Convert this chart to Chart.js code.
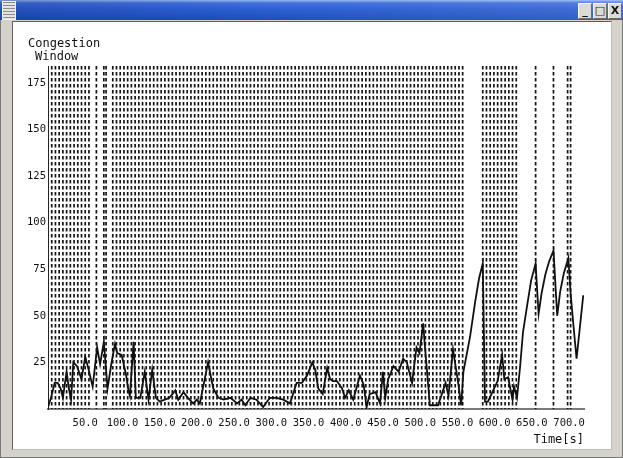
<!DOCTYPE html>
<html>
<head>
<meta charset="utf-8">
<script src="https://cdn.jsdelivr.net/npm/chart.js@4.4.1/dist/chart.umd.min.js"></script>
<style>
  html, body { margin: 0; padding: 0; width: 623px; height: 458px; overflow: hidden; background: #d5d2cc; }
  #frame { position: absolute; left: 0; top: 0; width: 621px; height: 456px; border: 1px solid #7a7a7a; }
  #titlebar { position: absolute; left: 0; top: 0; width: 623px; height: 20px;
    background: linear-gradient(to bottom, #9ab8f0 0px, #3f70dc 3px, #2c5fd2 9px, #2556c6 15px, #1f4db8 20px); }
  #titlebar::after { content: ""; position: absolute; left: 0; top: 0; width: 100%; height: 100%;
    background: linear-gradient(to right, rgba(0,20,90,0.2), rgba(0,0,0,0) 40%, rgba(255,255,255,0.1)); }
  #menu { position: absolute; left: 2px; top: 1px; width: 12px; height: 17px; border: 1px solid #f0f0f0;
    background: repeating-linear-gradient(to bottom, #8c8c8c 0px, #8c8c8c 1px, #e4e4e4 1px, #e4e4e4 3px); z-index: 2; }
  .btn { position: absolute; top: 3px; width: 12px; height: 14px; background: #dcdad5; border: 1px solid #f7f7f7;
    border-right-color: #6a6a6a; border-bottom-color: #6a6a6a; z-index: 2;
    font: bold 11px "DejaVu Sans", sans-serif; color: #111; text-align: center; line-height: 14px; }
  #panel { position: absolute; left: 12px; top: 21px; width: 598px; height: 427px; background: #ffffff;
    border: 1px solid #5e5e5e; border-right-color: #bdbdbd; border-bottom-color: #bdbdbd; }
  #chart { position: absolute; left: 0; top: 0; }
</style>
</head>
<body>
<div id="frame"></div>
<div id="titlebar"></div>
<div id="menu"></div>
<div class="btn" style="left:578px">_</div>
<div class="btn" style="left:593px">&#9633;</div>
<div class="btn" style="left:608px">X</div>
<div id="panel"></div>
<canvas id="chart" width="623" height="458"></canvas>
<script>
// Congestion window trace: sample time [s] and window size
const timeSec = [
  0, 4, 9, 13, 17, 20, 25, 28, 31, 34, 39, 45, 50, 54, 60, 66, 70, 75, 80, 85,
  90, 93, 99, 105, 108, 110, 115, 118, 124, 130, 135, 140, 145, 150, 157, 163, 171, 175, 182, 188,
  195, 200, 204, 215, 222, 229, 236, 245, 254, 260, 265, 272, 280, 289, 298, 307, 316, 325, 334, 341,
  348, 355, 359, 363, 369, 375, 379, 383, 388, 395, 399, 404, 410, 419, 424, 428, 432, 440, 446, 450,
  453, 457, 464, 471, 477, 482, 489, 495, 499, 504, 506, 513, 524, 534, 538, 544, 551, 555, 558, 567,
  574, 579, 584, 587, 591, 598, 604, 610, 613, 618, 624, 626, 630, 634, 638, 643, 649, 655, 659, 663,
  668, 673, 679, 684, 688, 693, 699, 702, 706, 710, 714, 719
];
const cwnd = [
  1, 6, 14, 14, 11, 6, 20, 11, 5, 25, 23, 16, 28, 22, 12, 33, 24, 36, 11, 24,
  35, 30, 29, 18, 10, 7, 36, 6, 6, 20, 5, 21, 6, 4, 5, 6, 10, 5, 9, 6,
  3, 5, 3, 25, 11, 6, 5, 6, 3, 5, 2, 6, 5, 1, 6, 6, 5, 3, 14, 14,
  18, 25, 21, 11, 8, 22, 16, 15, 15, 11, 6, 10, 5, 18, 13, 1, 8, 9, 3, 20,
  6, 16, 23, 20, 27, 25, 14, 33, 30, 46, 35, 2, 2, 14, 7, 32, 14, 2, 20, 39,
  58, 70, 78, 4, 4, 10, 15, 29, 16, 17, 5, 12, 6, 22, 41, 54, 69, 78, 51, 62,
  72, 79, 85, 50, 63, 73, 81, 62, 44, 27, 42, 61
];
// Times [s] of the marked events (vertical dashed lines)
const eventTimes = [
  5, 10, 15, 20, 25, 30, 35, 40, 45, 50, 55, 65, 75, 78,
  87, 92, 97, 102, 107, 112, 117, 122, 127, 132, 137, 142, 147, 152, 157, 162, 167, 172, 177, 182,
  187, 192, 197, 202, 207, 212, 217, 222, 227, 232, 237, 242, 247, 252, 257, 262, 267, 272, 277, 282,
  287, 292, 297, 302, 307, 312, 317, 322, 327, 332, 337, 342, 347, 352, 357, 362, 367, 372, 377, 382,
  387, 392, 397, 402, 407, 412, 417, 422, 427, 432, 437, 442, 447, 452, 457, 462, 467, 472, 477, 482,
  487, 492, 497, 502, 507, 512, 517, 522, 527, 532, 537, 542, 547, 552, 557,
  584, 589, 594, 599, 604, 609, 614, 619, 624, 629,
  655, 679, 698, 702
];
const xTickValues = [50, 100, 150, 200, 250, 300, 350, 400, 450, 500, 550, 600, 650, 700];
const yTickValues = [25, 50, 75, 100, 125, 150, 175];

const X_MAX = 720;
const Y_MAX = 184;

const monoFont = "'DejaVu Sans Mono', 'Liberation Mono', monospace";

// each event becomes its own top-to-bottom segment, separated by a gap
const eventPoints = [];
eventTimes.forEach(t => {
  eventPoints.push({ x: t, y: Y_MAX }, { x: t, y: 0 }, { x: t, y: null });
});

// two-line caption above the value axis
const axisCaption = {
  id: 'axisCaption',
  afterDraw(chart) {
    const { ctx } = chart;
    const left = chart.scales.y.left;
    ctx.save();
    ctx.fillStyle = '#111';
    ctx.font = "12px " + monoFont;
    ctx.textBaseline = 'middle';
    ctx.textAlign = 'left';
    ctx.fillText('Congestion', left + 8, 44);
    ctx.fillText('Window', left + 15, 57);
    ctx.restore();
  }
};

new Chart(document.getElementById('chart'), {
  type: 'line',
  data: {
    datasets: [
      {
        label: 'cwnd',
        data: timeSec.map((t, i) => ({ x: t, y: cwnd[i] })),
        borderColor: '#111111',
        borderWidth: 1.8,
        pointRadius: 0,
        tension: 0,
        order: 0
      },
      {
        label: 'events',
        data: eventPoints,
        borderColor: '#141414',
        borderWidth: 1.7,
        borderDash: [3.6, 2.4],
        pointRadius: 0,
        spanGaps: false,
        order: 1
      }
    ]
  },
  options: {
    responsive: false,
    animation: false,
    devicePixelRatio: 1,
    layout: { padding: { left: 20, right: 39, top: 66, bottom: 0 } },
    plugins: { legend: { display: false }, tooltip: { enabled: false }, title: { display: false } },
    scales: {
      x: {
        type: 'linear',
        min: 0,
        max: X_MAX,
        grid: { display: false, drawTicks: false },
        border: { display: true, color: '#7c7c7c', width: 2 },
        afterBuildTicks: s => { s.ticks = xTickValues.map(v => ({ value: v })); },
        afterFit: s => { s.height = 49; },
        ticks: {
          autoSkip: false, maxRotation: 0, padding: 8, color: '#111',
          font: { family: monoFont, size: 10.5 },
          callback: v => Number(v).toFixed(1)
        },
        title: {
          display: true, text: 'Time[s]', align: 'end', color: '#111',
          font: { family: monoFont, size: 12 },
          padding: { top: 0, bottom: 11 }
        }
      },
      y: {
        type: 'linear',
        min: 0,
        max: Y_MAX,
        grid: { display: false, drawTicks: false },
        border: { display: true, color: '#222', width: 1 },
        afterBuildTicks: s => { s.ticks = yTickValues.map(v => ({ value: v })); },
        afterFit: s => { s.width = 28; },
        ticks: {
          padding: 2, color: '#111',
          font: { family: monoFont, size: 10.5 }
        }
      }
    }
  },
  plugins: [axisCaption]
});
</script>
</body>
</html>
